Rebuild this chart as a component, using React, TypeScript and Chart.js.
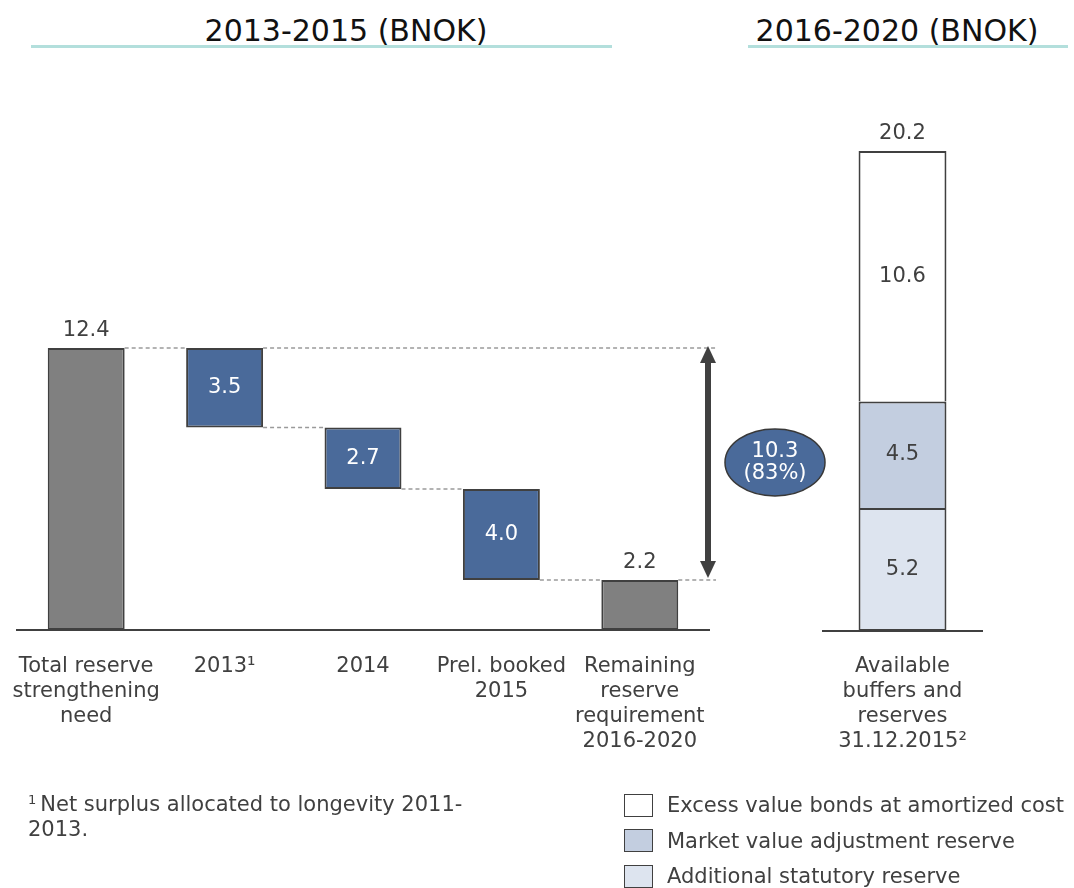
import React, { useEffect, useRef } from "react";
import { Chart, registerables } from "chart.js";

Chart.register(...registerables);

// ---------------- data ----------------
const titles = ["2013-2015 (BNOK)", "2016-2020 (BNOK)"];

const waterfallCategories = [
  ["Total reserve", "strengthening", "need"],
  ["2013¹"],
  ["2014"],
  ["Prel. booked", "2015"],
  ["Remaining", "reserve", "requirement", "2016-2020"],
];
const totalNeed = 12.4;
const bookedSteps = [3.5, 2.7, 4.0];
const remainingNeed = 2.2;
const coveredLabel = ["10.3", "(83%)"];

const bufferCategories = [["Available", "buffers and", "reserves", "31.12.2015²"]];
const bufferSeriesNames = [
  "Additional statutory reserve",
  "Market value adjustment reserve",
  "Excess value bonds at amortized cost",
];
const statutoryReserve = [5.2];
const marketValueReserve = [4.5];
const excessValueBonds = [10.6];
const bufferTotal = [20.2];

const footnoteLines = ["Net surplus allocated to longevity 2011-", "2013."];

// ---------------- style ----------------
const FONT = '"DejaVu Sans", Verdana, sans-serif';
const INK = "#404040";
const GREY = "#808080";
const BLUE = "#4a6a9a";
const BUFFER_COLORS = ["#dde4ef", "#c3cee0", "#ffffff"];
const H = 888;

const LEFT_CANVAS = { left: 0, width: 850 };
const LEFT_AREA = { left: 17, right: 709, base: 630, top: 311.5 };
const RIGHT_CANVAS = { left: 790, width: 284 };
const RIGHT_AREA = { left: 33, right: 192, base: 631, top: 110.7 };

// waterfall ranges derived from the values
function buildRanges(): [number, number][] {
  const r: [number, number][] = [[0, totalNeed]];
  let level = totalNeed;
  bookedSteps.forEach((s) => {
    const next = Math.round((level - s) * 10) / 10;
    r.push([next, level]);
    level = next;
  });
  r.push([0, remainingNeed]);
  return r;
}

const tickFont = { family: FONT, size: 21, lineHeight: "25px" };

export default function App() {
  const leftRef = useRef<HTMLCanvasElement | null>(null);
  const rightRef = useRef<HTMLCanvasElement | null>(null);

  useEffect(() => {
    const ranges = buildRanges();
    const values = [totalNeed, ...bookedSteps, remainingNeed];
    const colors = values.map((_, i) => (i === 0 || i === values.length - 1 ? GREY : BLUE));

    const waterfallPlugin = {
      id: "waterfallDecor",
      afterDatasetsDraw(chart: any) {
        const { ctx, chartArea, scales } = chart;
        const y = scales.y;
        const bars = chart.getDatasetMeta(0).data;
        const rect = (i: number) => {
          const p = bars[i].getProps(["x", "y", "base", "width"], true);
          return {
            x: p.x,
            l: p.x - p.width / 2,
            r: p.x + p.width / 2,
            top: Math.min(p.y, p.base),
            bot: Math.max(p.y, p.base),
          };
        };
        const xEnd = chartArea.right + 7;
        ctx.save();
        ctx.strokeStyle = "#9a9a9a";
        ctx.lineWidth = 1.5;
        ctx.setLineDash([4, 3]);
        const hline = (x1: number, x2: number, v: number) => {
          const py = y.getPixelForValue(v);
          ctx.beginPath();
          ctx.moveTo(x1, py);
          ctx.lineTo(x2, py);
          ctx.stroke();
        };
        for (let i = 0; i < bars.length - 1; i++) hline(rect(i).r, rect(i + 1).l, ranges[i + 1][1]);
        hline(rect(1).r, xEnd, totalNeed);
        hline(rect(bars.length - 1).r, xEnd, remainingNeed);

        // double arrow
        ctx.setLineDash([]);
        const ax = chartArea.right - 1;
        const yT = y.getPixelForValue(totalNeed) - 2;
        const yB = y.getPixelForValue(remainingNeed) - 2;
        const head = 17;
        const hw = 8;
        ctx.strokeStyle = INK;
        ctx.fillStyle = INK;
        ctx.lineWidth = 6;
        ctx.beginPath();
        ctx.moveTo(ax, yT + head - 2);
        ctx.lineTo(ax, yB - head + 2);
        ctx.stroke();
        ctx.beginPath();
        ctx.moveTo(ax, yT);
        ctx.lineTo(ax - hw, yT + head);
        ctx.lineTo(ax + hw, yT + head);
        ctx.closePath();
        ctx.fill();
        ctx.beginPath();
        ctx.moveTo(ax, yB);
        ctx.lineTo(ax - hw, yB - head);
        ctx.lineTo(ax + hw, yB - head);
        ctx.closePath();
        ctx.fill();

        // ellipse
        const ex = chartArea.right + 66;
        const ey = y.getPixelForValue((totalNeed + remainingNeed) / 2) - 1.5;
        ctx.beginPath();
        ctx.ellipse(ex, ey, 50, 33.5, 0, 0, Math.PI * 2);
        ctx.fillStyle = BLUE;
        ctx.fill();
        ctx.lineWidth = 1.5;
        ctx.strokeStyle = "#383838";
        ctx.stroke();
        ctx.font = `21px ${FONT}`;
        ctx.textAlign = "center";
        ctx.textBaseline = "middle";
        ctx.fillStyle = "#ffffff";
        ctx.fillText(coveredLabel[0], ex, ey - 11);
        ctx.fillText(coveredLabel[1], ex, ey + 11);

        // value labels
        bars.forEach((_: any, i: number) => {
          const r = rect(i);
          const inside = i > 0 && i < bars.length - 1;
          ctx.fillStyle = inside ? "#ffffff" : INK;
          ctx.fillText(values[i].toFixed(1), r.x, inside ? (r.top + r.bot) / 2 : r.top - 17);
        });
        ctx.restore();
      },
    };

    const left = new Chart(leftRef.current as HTMLCanvasElement, {
      type: "bar",
      data: {
        labels: waterfallCategories as any,
        datasets: [
          {
            data: ranges as any,
            backgroundColor: colors,
            borderColor: INK,
            borderWidth: 2,
            borderSkipped: false,
            barPercentage: 0.556,
            categoryPercentage: 1,
          },
        ],
      },
      options: {
        animation: false,
        responsive: false,
        devicePixelRatio: 1,
        events: [],
        layout: {
          padding: {
            left: LEFT_AREA.left,
            right: LEFT_CANVAS.width - LEFT_AREA.right,
            top: LEFT_AREA.top,
            bottom: 0,
          },
        },
        plugins: { legend: { display: false }, tooltip: { enabled: false } },
        scales: {
          x: {
            grid: { display: false, drawTicks: false },
            border: { display: true, color: INK, width: 2 },
            ticks: { color: INK, font: tickFont as any, padding: 24, maxRotation: 0, autoSkip: false },
            afterFit: (s: any) => {
              s.height = H - LEFT_AREA.base;
              s.paddingLeft = 0;
              s.paddingRight = 0;
            },
          },
          y: { display: false, min: 0, max: 14 },
        },
      },
      plugins: [waterfallPlugin],
    });

    const bufferValues = [statutoryReserve, marketValueReserve, excessValueBonds];

    const stackPlugin = {
      id: "stackDecor",
      afterDatasetsDraw(chart: any) {
        const { ctx } = chart;
        ctx.save();
        ctx.font = `21px ${FONT}`;
        ctx.textAlign = "center";
        ctx.textBaseline = "middle";
        ctx.fillStyle = INK;
        let topY = Infinity;
        let cx = 0;
        chart.data.datasets.forEach((ds: any, di: number) => {
          const p = chart.getDatasetMeta(di).data[0].getProps(["x", "y", "base"], true);
          ctx.fillText(Number(ds.data[0]).toFixed(1), p.x, (p.y + p.base) / 2);
          topY = Math.min(topY, p.y);
          cx = p.x;
        });
        ctx.fillText(bufferTotal[0].toFixed(1), cx, topY - 17);
        ctx.restore();
      },
    };

    const right = new Chart(rightRef.current as HTMLCanvasElement, {
      type: "bar",
      data: {
        labels: bufferCategories as any,
        datasets: bufferSeriesNames.map((name, i) => ({
          label: name,
          data: bufferValues[i],
          backgroundColor: BUFFER_COLORS[i],
          borderColor: INK,
          borderWidth: 2,
          borderSkipped: i === 0 ? false : "start",
          barPercentage: 0.553,
          categoryPercentage: 1,
        })) as any,
      },
      options: {
        animation: false,
        responsive: false,
        devicePixelRatio: 1,
        events: [],
        layout: {
          padding: {
            left: RIGHT_AREA.left,
            right: RIGHT_CANVAS.width - RIGHT_AREA.right,
            top: RIGHT_AREA.top,
            bottom: 0,
          },
        },
        plugins: { legend: { display: false }, tooltip: { enabled: false } },
        scales: {
          x: {
            stacked: true,
            grid: { display: false, drawTicks: false },
            border: { display: true, color: INK, width: 2 },
            ticks: { color: INK, font: tickFont as any, padding: 23, maxRotation: 0, autoSkip: false },
            afterFit: (s: any) => {
              s.height = H - RIGHT_AREA.base;
              s.paddingLeft = 0;
              s.paddingRight = 0;
            },
          },
          y: { display: false, stacked: true, min: 0, max: 22 },
        },
      },
      plugins: [stackPlugin],
    });

    return () => {
      left.destroy();
      right.destroy();
    };
  }, []);

  const legendRows = bufferSeriesNames
    .map((name, i) => ({ name, color: BUFFER_COLORS[i] }))
    .reverse();
  const legendCenters = [805, 840.5, 876];

  return (
    <div
      style={{
        position: "fixed",
        left: 0,
        top: 0,
        width: 1074,
        height: H,
        background: "#ffffff",
        overflow: "hidden",
        fontFamily: FONT,
      }}
    >
      {/* titles */}
      <div
        style={{
          position: "absolute",
          left: 146,
          width: 400,
          top: 12,
          height: 38,
          lineHeight: "38px",
          fontSize: 30,
          textAlign: "center",
          color: "#111",
          whiteSpace: "nowrap",
        }}
      >
        {titles[0]}
      </div>
      <div style={{ position: "absolute", left: 31, width: 581, top: 44.5, height: 3, background: "#b3dfdc" }} />
      <div
        style={{
          position: "absolute",
          left: 697,
          width: 400,
          top: 12,
          height: 38,
          lineHeight: "38px",
          fontSize: 30,
          textAlign: "center",
          color: "#111",
          whiteSpace: "nowrap",
        }}
      >
        {titles[1]}
      </div>
      <div style={{ position: "absolute", left: 748, width: 320, top: 44.5, height: 3, background: "#b3dfdc" }} />

      <canvas
        ref={leftRef}
        width={LEFT_CANVAS.width}
        height={H}
        style={{ position: "absolute", left: LEFT_CANVAS.left, top: 0, width: LEFT_CANVAS.width, height: H }}
      />
      <canvas
        ref={rightRef}
        width={RIGHT_CANVAS.width}
        height={H}
        style={{ position: "absolute", left: RIGHT_CANVAS.left, top: 0, width: RIGHT_CANVAS.width, height: H }}
      />

      {/* footnote */}
      <div
        style={{
          position: "absolute",
          left: 28,
          top: 793,
          fontSize: 21,
          lineHeight: "23px",
          color: INK,
          whiteSpace: "nowrap",
        }}
      >
        <div>
          <span style={{ fontSize: 13, position: "relative", top: -7 }}>1</span>
          <span style={{ marginLeft: 4 }}>{footnoteLines[0]}</span>
        </div>
        <div>{footnoteLines[1]}</div>
      </div>

      {/* legend */}
      {legendRows.map((row, i) => (
        <React.Fragment key={row.name}>
          <div
            style={{
              position: "absolute",
              left: 624,
              top: legendCenters[i] - 11.5,
              width: 29,
              height: 23,
              boxSizing: "border-box",
              border: `1.5px solid ${INK}`,
              background: row.color,
            }}
          />
          <div
            style={{
              position: "absolute",
              left: 667,
              top: legendCenters[i] - 14,
              height: 28,
              lineHeight: "28px",
              fontSize: 21,
              color: INK,
              whiteSpace: "nowrap",
            }}
          >
            {row.name}
          </div>
        </React.Fragment>
      ))}
    </div>
  );
}
